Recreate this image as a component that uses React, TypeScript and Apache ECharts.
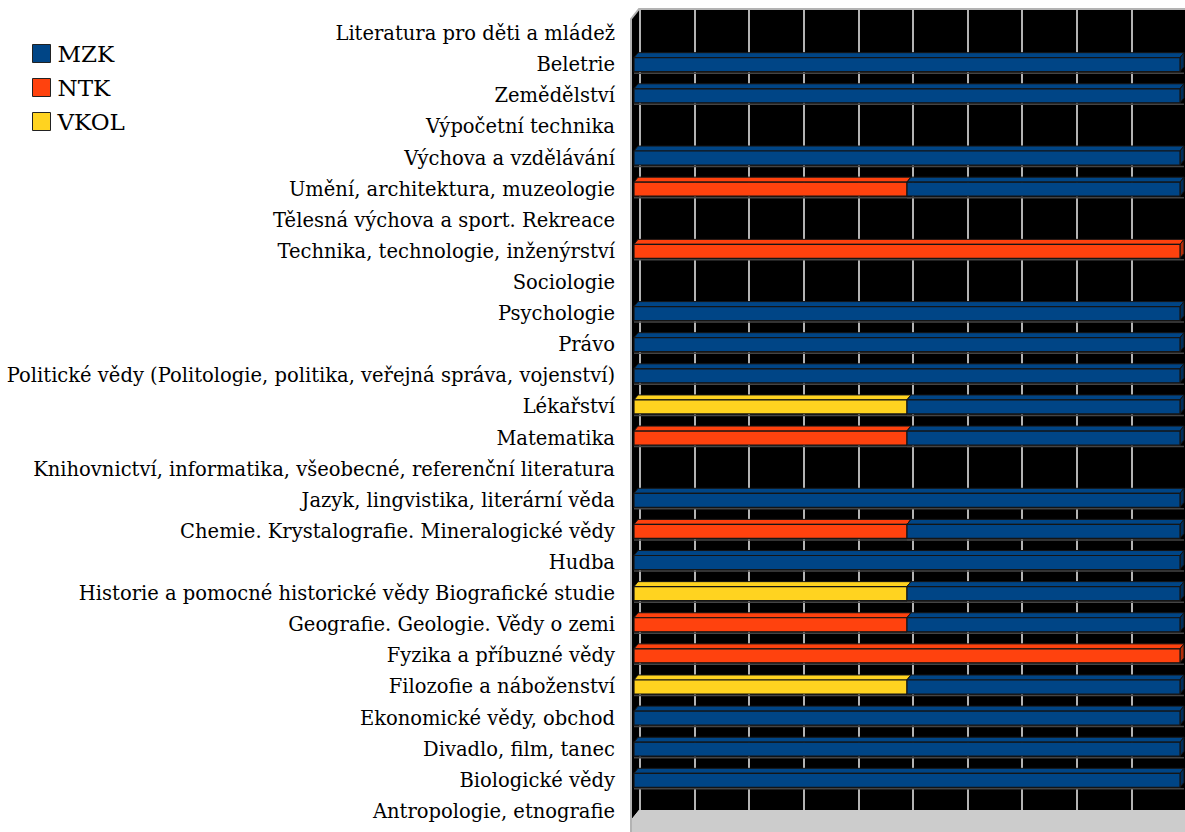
import React, { useEffect, useRef } from "react";
import * as echarts from "echarts";

const categories = [
  "Literatura pro děti a mládež",
  "Beletrie",
  "Zemědělství",
  "Výpočetní technika",
  "Výchova a vzdělávání",
  "Umění, architektura, muzeologie",
  "Tělesná výchova a sport. Rekreace",
  "Technika, technologie, inženýrství",
  "Sociologie",
  "Psychologie",
  "Právo",
  "Politické vědy (Politologie, politika, veřejná správa, vojenství)",
  "Lékařství",
  "Matematika",
  "Knihovnictví, informatika, všeobecné, referenční literatura",
  "Jazyk, lingvistika, literární věda",
  "Chemie. Krystalografie. Mineralogické vědy",
  "Hudba",
  "Historie a pomocné historické vědy Biografické studie",
  "Geografie. Geologie. Vědy o zemi",
  "Fyzika a příbuzné vědy",
  "Filozofie a náboženství",
  "Ekonomické vědy, obchod",
  "Divadlo, film, tanec",
  "Biologické vědy",
  "Antropologie, etnografie",
];

const mzk = [0, 100, 100, 0, 100, 50, 0, 0, 0, 100, 100, 100, 50, 50, 0, 100, 50, 100, 50, 50, 0, 50, 100, 100, 100, 0];
const ntk = [0, 0, 0, 0, 0, 50, 0, 100, 0, 0, 0, 0, 0, 50, 0, 0, 50, 0, 0, 50, 100, 0, 0, 0, 0, 0];
const vkol = [0, 0, 0, 0, 0, 0, 0, 0, 0, 0, 0, 0, 50, 0, 0, 0, 0, 0, 50, 0, 0, 50, 0, 0, 0, 0];

const legendNames = ["MZK", "NTK", "VKOL"];
const stackOrder = ["NTK", "VKOL", "MZK"];
const seriesColors: Record<string, string> = { MZK: "#004586", NTK: "#ff420e", VKOL: "#ffd320" };
const sideColors: Record<string, string> = { MZK: "#002f5c", NTK: "#b32e0a", VKOL: "#b39416" };

const FONT = "DejaVu Serif";

export default function App() {
  const ref = useRef<HTMLDivElement>(null);
  useEffect(() => {
    const chart = echarts.init(ref.current!, null, { renderer: "svg" });
    const valuesByName: Record<string, number[]> = { MZK: mzk, NTK: ntk, VKOL: vkol };
    const starts = categories.map(() => 0);
    const series = stackOrder.map((name) => {
      const data = categories.map((_, i) => {
        const s = starts[i];
        const v = valuesByName[name][i];
        starts[i] = s + v;
        return [i, s, s + v, v];
      });
      const side = sideColors[name];
      return {
        type: "custom",
        name,
        xAxisIndex: 0,
        yAxisIndex: 0,
        itemStyle: { color: seriesColors[name] },
        encode: { x: [1, 2], y: 0 },
        data,
        renderItem: (params: any, api: any) => {
          const v = api.value(3);
          if (!(v > 0)) return null;
          const cat = api.value(0);
          const a = api.coord([api.value(1), cat]);
          const b = api.coord([api.value(2), cat]);
          const color = api.visual("color");
          const x0 = a[0];
          const x1 = b[0];
          const c = a[1];
          const fTop = c - 7;
          const fBot = c + 7;
          const d = 4;
          const th = 5;
          return {
            type: "group",
            children: [
              {
                type: "polygon",
                shape: { points: [[x0, fTop], [x0 + d, fTop - th], [x1 + d, fTop - th], [x1, fTop]] },
                style: { fill: color, stroke: "#151515", lineWidth: 1 },
              },
              {
                type: "polygon",
                shape: { points: [[x1, fTop], [x1 + d, fTop - th], [x1 + d, fBot - th], [x1, fBot]] },
                style: { fill: side, stroke: "#151515", lineWidth: 1 },
              },
              {
                type: "rect",
                shape: { x: x0, y: fTop, width: x1 - x0, height: fBot - fTop },
                style: { fill: color, stroke: "#151515", lineWidth: 1.2 },
              },
              {
                type: "line",
                shape: { x1: x0, y1: fBot + 1.5, x2: x1 + d, y2: fBot + 1.5 },
                style: { stroke: "#444444", lineWidth: 1.5 },
              },
            ],
          };
        },
      };
    });

    chart.setOption({
      animation: false,
      backgroundColor: "#ffffff",
      textStyle: { fontFamily: FONT },
      legend: {
        data: legendNames,
        orient: "vertical",
        left: 27,
        top: 37,
        icon: "rect",
        itemWidth: 18,
        itemHeight: 18,
        itemGap: 11,
        itemStyle: { borderColor: "#222222", borderWidth: 1 },
        textStyle: { fontSize: 23, fontFamily: FONT, color: "#000000", padding: [0, 0, 0, 2] },
        selectedMode: false,
      },
      graphic: [
        {
          type: "polygon",
          z: -10,
          silent: true,
          shape: { points: [[631, 19], [639, 9], [1185, 9], [1185, 810], [639, 810], [631, 820]] },
          style: { fill: "#000000" },
        },
        {
          type: "polygon",
          z: -10,
          silent: true,
          shape: { points: [[639, 810], [1185, 810], [1185, 832], [631, 832], [631, 820]] },
          style: { fill: "#cccccc" },
        },
        {
          type: "polyline",
          z: -9,
          silent: true,
          shape: { points: [[631, 832], [631, 19], [639, 9], [1185, 9]] },
          style: { stroke: "#b3b3b3", lineWidth: 2, fill: null },
        },
      ],
      grid: [
        { left: 634, top: 18, width: 546, height: 809, outerBoundsMode: "none", containLabel: false },
        { left: 640, top: 9, width: 546, height: 801, outerBoundsMode: "none", containLabel: false },
      ],
      xAxis: [
        { gridIndex: 0, type: "value", min: 0, max: 100, show: false },
        {
          gridIndex: 1,
          type: "value",
          min: 0,
          max: 100,
          interval: 10,
          axisLine: { show: false },
          axisTick: { show: false },
          axisLabel: { show: false },
          splitLine: { show: true, lineStyle: { color: "#b3b3b3", width: 2 } },
        },
      ],
      yAxis: [
        {
          gridIndex: 0,
          type: "category",
          inverse: true,
          data: categories,
          axisLine: { show: false },
          axisTick: { show: false },
          splitLine: { show: false },
          axisLabel: {
            fontSize: 19.5,
            fontFamily: FONT,
            color: "#000000",
            margin: 19,
            interval: 0,
            padding: [9, 0, 0, 0],
          },
        },
        { gridIndex: 1, type: "value", show: false, min: 0, max: 1, splitLine: { show: false } },
      ],
      series,
    });
    return () => chart.dispose();
  }, []);
  return (
    <div
      ref={ref}
      style={{ position: "fixed", left: 0, top: 0, width: 1185, height: 832 }}
    />
  );
}
